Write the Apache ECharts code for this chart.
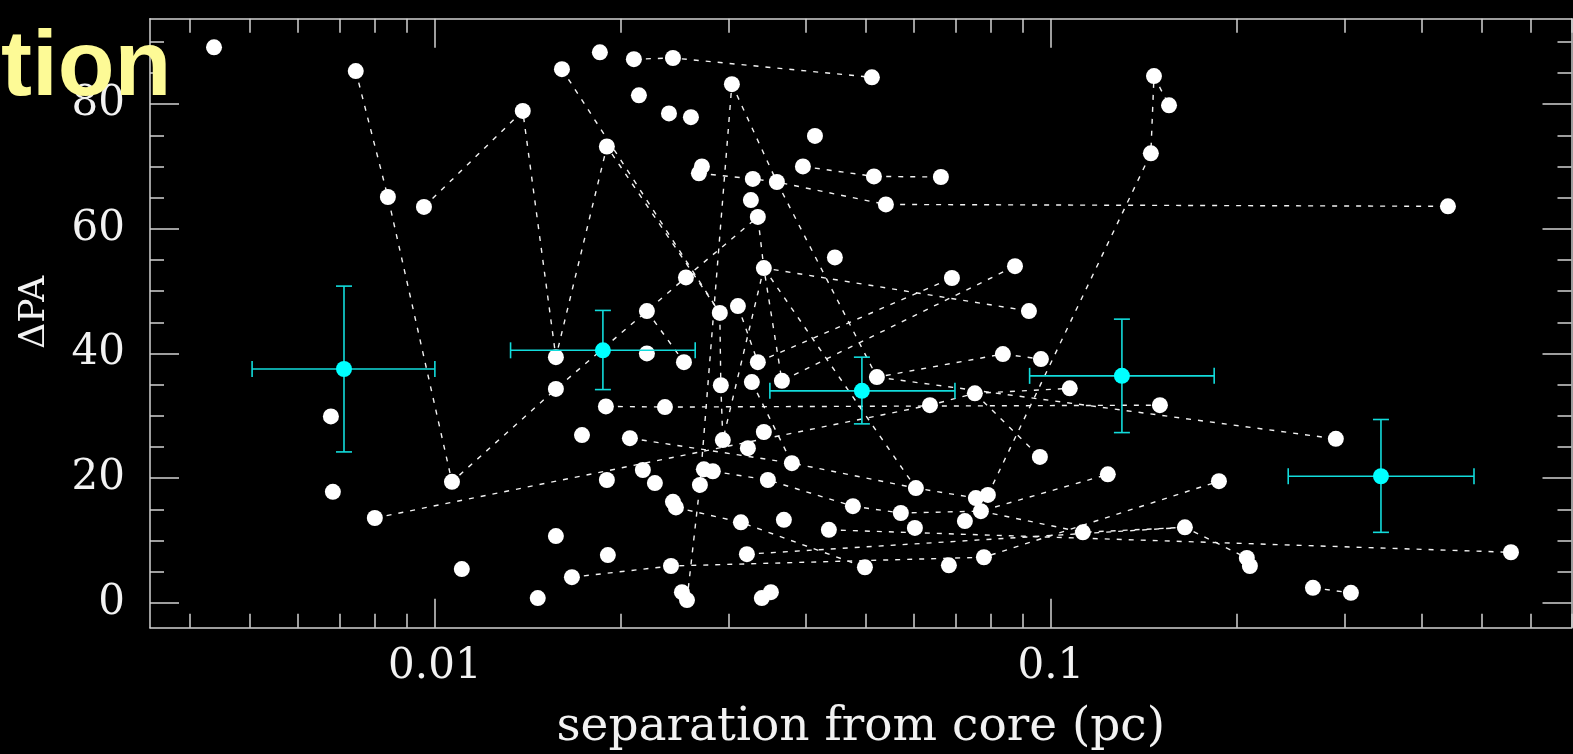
<!DOCTYPE html>
<html><head><meta charset="utf-8">
<script src="https://cdn.jsdelivr.net/npm/echarts@6/dist/echarts.min.js"></script>
<style>html,body{margin:0;padding:0;background:#000;}#chart{width:1573px;height:754px;}</style>
</head><body><div id="chart"></div>
<script>
// ---- data (separation in pc, delta PA in degrees) ----
const sepPc = [0.00438,0.00744,0.00839,0.00960,0.01389,0.01608,0.01853,0.02104,0.02435,0.05122,
0.02144,0.02399,0.02604,0.03035,0.01902,0.04140,0.02713,0.02683,0.03282,0.03591,
0.03958,0.05161,0.06629,0.03258,0.03344,0.05397,0.4411,0.1470,0.1555,0.1453,
0.04460,0.02556,0.03420,0.06908,0.08744,0.03104,0.02209,0.02901,0.09212,0.00678,
0.00683,0.00799,0.01066,0.01106,0.01469,0.01669,0.01572,0.01909,0.01572,0.01572,
0.02209,0.02537,0.01895,0.02363,0.01733,0.02073,0.02176,0.02276,0.01902,0.02733,
0.02826,0.02693,0.02435,0.02462,0.03139,0.03686,0.03210,0.02417,0.02518,0.02566,
0.03511,0.03394,0.02912,0.03270,0.03344,0.03659,0.02934,0.03420,0.03222,0.03798,
0.03472,0.05218,0.06363,0.07526,0.08357,0.09634,0.1073,0.1503,0.09597,0.1237,
0.1874,0.06037,0.07554,0.07901,0.07697,0.07251,0.04771,0.05707,0.06015,0.04361,
0.1127,0.1650,0.04990,0.06830,0.07785,0.2901,0.2080,0.2104,0.5582,0.2663,0.3069];
const dPA = [89.1,85.3,65.1,63.5,78.9,85.6,88.3,87.2,87.4,84.3,
81.4,78.5,77.9,83.2,73.2,74.9,70.0,68.9,68.0,67.5,
70.0,68.4,68.3,64.6,61.9,63.9,63.6,84.5,79.8,72.1,
55.4,52.2,53.7,52.1,54.0,47.6,46.8,46.5,46.8,29.9,
17.8,13.6,19.4,5.4,0.75,4.1,10.7,7.65,39.4,34.3,
40.0,38.6,31.5,31.4,26.9,26.4,21.3,19.2,19.7,21.4,
21.1,18.9,16.2,15.3,12.9,13.3,7.8,5.9,1.7,0.43,
1.7,0.75,34.9,35.4,38.6,35.6,26.1,27.4,24.8,22.4,
19.7,36.2,31.7,33.6,39.9,39.1,34.4,31.7,23.4,20.6,
19.5,18.4,16.8,17.3,14.7,13.1,15.5,14.4,12.0,11.7,
11.3,12.1,5.7,6.0,7.3,26.3,7.2,5.9,8.1,2.4,1.6];
// component tracks: 1-based point numbers joined by dotted lines
const tracks = [
 [2,3,43,50,37,32,25,33,39],
 [4,5,49,15,38,73,77,33,76,35],
 [6,38],
 [8,9,10],
 [70,62,14],
 [14,20,82,85,86],
 [18,19,20,26,27],
 [21,22,23],
 [94,30,28,29],
 [33,92],
 [36,75,34],
 [53,54,88],
 [42,83,84,87],
 [82,106],
 [46,68,105,91],
 [56,80,92,93],
 [64,65,103],
 [61,81,97,98,95,90],
 [84,89],
 [110,111],
 [67,102],
 [37,52],
 [74,80],
 [95,101,102,107],
 [100,109]
];
// binned means with error bars
const meanSep = [0.00712,0.01874,0.04934,0.1304,0.3434];
const meanPA  = [37.5,40.5,34.0,36.4,20.3];
const sepLo   = [0.00505,0.01327,0.03498,0.09235,0.2428];
const sepHi   = [0.0100,0.02646,0.06986,0.1841,0.4862];
const paLo    = [24.2,34.2,28.7,27.3,11.3];
const paHi    = [50.8,46.9,39.4,45.5,29.4];
// ticks
const xMajorTicks = [0.01,0.1];
const xLabels = ['0.01','0.1'];
const xMinorTicks = [0.004,0.005,0.006,0.007,0.008,0.009,0.02,0.03,0.04,0.05,0.06,0.07,0.08,0.09,0.2,0.3,0.4,0.5,0.6,0.7];
const yMajorTicks = [0,20,40,60,80];
const yMinorTicks = [5,10,15,25,30,35,45,50,55,65,70,75,85,90];
const X_MIN = 0.003448, X_MAX = 0.7, Y_MIN = -4, Y_MAX = 93.7;

const axisColor = '#d2d2d2';
const serif = '"DejaVu Serif", serif';

function xAx(pos, ticks, len, showLine, labels) {
  return {
    type:'log', logBase:10, min:X_MIN, max:X_MAX, position:pos,
    axisLine:{show:showLine, onZero:false, lineStyle:{color:axisColor,width:1.5}},
    axisTick:{show:true, inside:true, length:len, customValues:ticks, lineStyle:{color:axisColor,width:1.5}},
    axisLabel: labels ? {show:true, customValues:ticks, margin:18, color:'#f2f2f2', fontFamily:serif, fontSize:42,
        formatter:(v)=>{const i=ticks.findIndex(t=>Math.abs(t-v)/t<1e-6); return i>=0?labels[i]:'';}} : {show:false},
    splitLine:{show:false}, minorTick:{show:false}, minorSplitLine:{show:false}
  };
}
function yAx(pos, ticks, len, showLine, labels) {
  return {
    type:'value', min:Y_MIN, max:Y_MAX, position:pos,
    axisLine:{show:showLine, onZero:false, lineStyle:{color:axisColor,width:1.5}},
    axisTick:{show:true, inside:true, length:len, customValues:ticks, lineStyle:{color:axisColor,width:1.5}},
    axisLabel: labels ? {show:true, customValues:ticks, margin:25, color:'#f2f2f2', fontFamily:serif, fontSize:42} : {show:false},
    splitLine:{show:false}, minorTick:{show:false}
  };
}

const xAxes = [
  xAx('bottom', xMajorTicks, 29, true, xLabels),
  xAx('bottom', xMinorTicks, 14, false, null),
  xAx('top', xMajorTicks, 29, true, null),
  xAx('top', xMinorTicks, 14, false, null)
];
xAxes[0].name = 'separation from core (pc)';
xAxes[0].nameLocation = 'middle';
xAxes[0].nameGap = 77;
xAxes[0].nameTextStyle = {color:'#f2f2f2', fontFamily:serif, fontSize:47};
const yAxes = [
  yAx('left', yMajorTicks, 29, true, true),
  yAx('left', yMinorTicks, 14, false, false),
  yAx('right', yMajorTicks, 29, true, false),
  yAx('right', yMinorTicks, 14, false, false)
];
yAxes[0].name = '\u0394PA';
yAxes[0].nameLocation = 'middle';
yAxes[0].nameRotate = 90;
yAxes[0].nameGap = 97;
yAxes[0].nameTextStyle = {color:'#f2f2f2', fontFamily:serif, fontSize:36, padding:[0,0,0,22]};

const pts = sepPc.map((x,i)=>[x,dPA[i]]);
const series = [];
tracks.forEach(tr=>{
  series.push({type:'line', xAxisIndex:0, yAxisIndex:0, data:tr.map(id=>pts[id-1]),
    symbol:'none', silent:true, z:2, animation:false,
    lineStyle:{color:'#f2f2f2', width:1.4, type:[5,7], opacity:1}});
});
series.push({type:'scatter', xAxisIndex:0, yAxisIndex:0, data:pts, symbol:'circle', symbolSize:16,
  itemStyle:{color:'#ffffff', opacity:1}, z:3, silent:true, animation:false});
const errData = meanSep.map((x,i)=>[x, meanPA[i], sepLo[i], sepHi[i], paLo[i], paHi[i]]);
series.push({type:'custom', xAxisIndex:0, yAxisIndex:0, data:errData, z:4, silent:true, animation:false,
  encode:{x:0, y:1},
  renderItem:(params, api)=>{
    const x=api.value(0), y=api.value(1);
    const pL=api.coord([api.value(2),y]), pR=api.coord([api.value(3),y]);
    const pT=api.coord([x,api.value(5)]), pB=api.coord([x,api.value(4)]);
    const c=8, st={stroke:'#12dcdc', lineWidth:1.6};
    const L=(a,b,c2,d)=>({type:'line', shape:{x1:a,y1:b,x2:c2,y2:d}, style:st});
    return {type:'group', children:[
      L(pL[0],pL[1],pR[0],pR[1]), L(pL[0],pL[1]-c,pL[0],pL[1]+c), L(pR[0],pR[1]-c,pR[0],pR[1]+c),
      L(pT[0],pT[1],pB[0],pB[1]), L(pT[0]-c,pT[1],pT[0]+c,pT[1]), L(pB[0]-c,pB[1],pB[0]+c,pB[1])
    ]};
  }});
series.push({type:'scatter', xAxisIndex:0, yAxisIndex:0, data:meanSep.map((x,i)=>[x,meanPA[i]]),
  symbol:'circle', symbolSize:16, itemStyle:{color:'#00ffff', opacity:1}, z:5, silent:true, animation:false});

const chart = echarts.init(document.getElementById('chart'), null, {renderer:'canvas'});
chart.setOption({
  backgroundColor:'#000000',
  animation:false,
  grid:{left:150, top:18.7, right:1.5, bottom:126.3, containLabel:false, outerBoundsMode:'none'},
  xAxis:xAxes,
  yAxis:yAxes,
  series:series,
  graphic:[{type:'text', left:1, top:23, z:100,
    style:{text:'tion', font:'bold 93px "Liberation Sans", Arial, sans-serif', fill:'#fdfa96'}}]
});
</script></body></html>
